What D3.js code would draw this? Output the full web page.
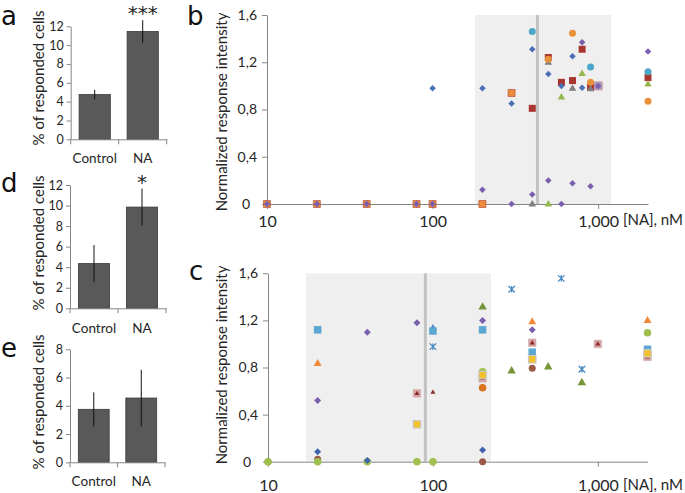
<!DOCTYPE html>
<html><head><meta charset="utf-8">
<script src="https://cdn.jsdelivr.net/npm/d3@7"></script>
<style>body{margin:0;background:#fff}svg{display:block;font-family:Lato,"Open Sans",sans-serif}</style>
</head><body><svg id="c" width="685" height="493"></svg>
<script>
// ---------------- DATA ----------------
const barCategories = ["Control", "NA"];
const aValues = [4.75, 11.45], aErrors = [0.5, 1.2];
const dValues = [4.35, 9.85], dErrors = [1.8, 1.8];
const eValues = [3.75, 4.55], eErrors = [1.2, 2.0];
const barTicks12 = [0, 2, 4, 6, 8, 10, 12];
const barTicks8 = [0, 2, 4, 6, 8];
const aStars = "***", dStars = "*", eStars = "";

const xTicks = [10, 100, 1000];
const xTickLabels = ["10", "100", "1,000"];
const xAxisTitle = "[NA], nM";
const yTicks = [0, 0.4, 0.8, 1.2, 1.6];
const yTickLabels = ["0", "0,4", "0,8", "1,2", "1,6"];
const yAxisTitle = "Normalized response intensity";
const barAxisTitle = "% of responded cells";
const xDomain = [10, 2000];
const bBand = [180, 1200], bLine = 430;
const cBand = [17, 225], cLine = 90;

// panel b series ([NA] nM, response)
const bOrangeSquare = [[10,0],[20,0],[40,0],[80,0],[100,0],[200,0],[300,0.94]];
const bLavenderSquare = [[1000,1.0]];
const bRedSquare = [[400,0.81],[500,1.24],[600,1.03],[700,1.045],[800,1.31],[900,0.99],[2000,1.07]];
const bTealCircle = [[400,1.46],[900,1.16],[2000,1.12]];
const bGrayTriangle = [[400,0],[500,1.2],[700,0.98],[900,0.975]];
const bOrangeCircle = [[500,1.225],[700,1.445],[900,1.03],[2000,0.87]];
const bGreenTriangle = [[500,0],[600,0.905],[800,1.105],[2000,1.015]];
const bBlueDiamond = [[100,0.98],[200,0.98],[300,0.85],[400,1.31],[500,1.10],[600,1.0],[700,1.25],[800,0.985]];
const bPurpleDiamond = [[10,0],[20,0],[40,0],[80,0],[100,0],[200,0.12],[300,0],[400,0.08],[500,0.2],[600,0],[700,0.175],[800,1.37],[900,0.15],[1000,1.0],[2000,1.29]];

// panel c series
const cBrownCircle = [[10,0],[20,0.02],[200,0],[400,0.793]];
const cLightGreenCircle = [[10,0],[20,0],[40,0],[80,0],[100,0],[200,0.764],[2000,1.096]];
const cLightBlueSquare = [[20,1.12],[100,1.11],[200,1.12],[400,0.93],[2000,0.955]];
const cBlueTriangle = [[100,1.135]];
const cOrangeTriangle = [[20,0.835],[400,1.19],[2000,1.2]];
const cPurpleDiamond = [[20,0.52],[40,1.1],[80,1.18],[200,1.2],[400,1.12]];
const cBlueDiamond = [[20,0.085],[40,0.01],[200,0.1]];
const cStar = [[100,0.977],[300,1.464],[600,1.557],[800,0.785]];
const cPinkSquare = [[80,0.58],[200,0.708],[400,1.01],[1000,1.0],[2000,0.89]];
const cDarkRedTriangle = [[80,0.58],[100,0.59],[200,0.708],[400,1.01],[1000,1.0],[2000,0.89]];
const cYellowSquare = [[80,0.318],[200,0.736],[400,0.87],[2000,0.92]];
const cGreenTriangle = [[200,1.316],[300,0.773],[500,0.807],[800,0.674]];
const cOrangeCircle = [[200,0.628]];

// ---------------- DRAWING ----------------
const svg = d3.select("#c");
const AX = "#868686", TXT = "#262626";
const LETTER_FONT = "'DejaVu Sans', sans-serif";

function styleAxis(g, fs) {
  g.select(".domain").attr("stroke", AX);
  g.selectAll(".tick line").attr("stroke", AX);
  g.selectAll(".tick text").attr("fill", TXT).style("font-size", fs + "px").style("font-family", "Lato");
}

function drawBarPanel(c) {
  const y = d3.scaleLinear().domain([0, c.yMax]).range([c.y0, c.yTop]);
  const x = d3.scaleBand().domain(barCategories).range([c.left, c.right]).paddingInner(0.35).paddingOuter(0.175);
  const g = svg.append("g");
  g.selectAll("rect").data(c.values).join("rect")
    .attr("x", (d, i) => x(barCategories[i])).attr("y", d => y(d))
    .attr("width", x.bandwidth()).attr("height", d => y(0) - y(d))
    .attr("fill", "#595959").attr("stroke", "#3a3a3a").attr("stroke-width", 0.8);
  g.selectAll("line.err").data(c.values).join("line").attr("class", "err")
    .attr("x1", (d, i) => x(barCategories[i]) + x.bandwidth() / 2)
    .attr("x2", (d, i) => x(barCategories[i]) + x.bandwidth() / 2)
    .attr("y1", (d, i) => y(d + c.errors[i])).attr("y2", (d, i) => y(d - c.errors[i]))
    .attr("stroke", "#111").attr("stroke-width", 1);
  const ya = g.append("g").attr("transform", `translate(${c.left},0)`)
    .call(d3.axisLeft(y).tickValues(c.ticks).tickSize(4).tickSizeOuter(0).tickPadding(3));
  styleAxis(ya, 12.5);
  const xa = g.append("g").attr("transform", `translate(0,${c.y0})`)
    .call(d3.axisBottom(x).tickSize(0).tickSizeOuter(0).tickPadding(c.catPad));
  styleAxis(xa, 13.5);
  const bounds = d3.range(barCategories.length + 1).map(i => x.range()[0] + i * x.step());
  g.selectAll("line.bt").data(bounds).join("line").attr("class", "bt")
    .attr("x1", d => d).attr("x2", d => d).attr("y1", c.y0).attr("y2", c.y0 + 5).attr("stroke", AX);
  if (c.stars) g.append("text").attr("x", x("NA") + x.bandwidth() / 2).attr("y", c.starsY)
    .attr("text-anchor", "middle").style("font-size", "20px").style("font-family", LETTER_FONT)
    .attr("fill", TXT).text(c.stars);
  g.append("text").attr("transform", `translate(44,${c.titleY}) rotate(-90)`)
    .attr("text-anchor", "middle").style("font-size", "15px").attr("fill", TXT).text(barAxisTitle);
  g.append("text").attr("x", 1).attr("y", c.letterY).style("font-size", "26px").style("font-family", LETTER_FONT)
    .attr("fill", "#111").text(c.letter);
}

drawBarPanel({values: aValues, errors: aErrors, ticks: barTicks12, yMax: 12, stars: aStars, letter: "a",
  left: 70.7, right: 166.7, y0: 139.3, yTop: 26.3, catPad: 14, starsY: 19.5, titleY: 78, letterY: 25});
drawBarPanel({values: dValues, errors: dErrors, ticks: barTicks12, yMax: 12, stars: dStars, letter: "d",
  left: 70, right: 166, y0: 308.3, yTop: 185, catPad: 15, starsY: 189, titleY: 243, letterY: 192});
drawBarPanel({values: eValues, errors: eErrors, ticks: barTicks8, yMax: 8, stars: eStars, letter: "e",
  left: 70, right: 165, y0: 462.3, yTop: 349.3, catPad: 14, starsY: 0, titleY: 402, letterY: 357});

// marker shapes
function shapePath(type, s) {
  const h = s / 2;
  if (type === "square") return `M${-h},${-h}H${h}V${h}H${-h}Z`;
  if (type === "diamond") return `M0,${-h}L${h},0L0,${h}L${-h},0Z`;
  if (type === "triangle") { const t = s * 0.866; return `M0,${-t * 0.62}L${h},${t * 0.38}L${-h},${t * 0.38}Z`; }
  if (type === "circle") return `M${h},0A${h},${h} 0 1,1 ${-h},0A${h},${h} 0 1,1 ${h},0Z`;
  if (type === "star") return `M${-h},${-h}L${h},${h}M${h},${-h}L${-h},${h}M0,${-h}V${h}`;
}

function drawScatter(c) {
  const x = d3.scaleLog().domain(xDomain).range([c.left, c.right]);
  const y = d3.scaleLinear().domain([0, 1.6]).range([c.y0, c.yTop]);
  const g = svg.append("g");
  g.append("rect").attr("x", x(c.band[0])).attr("y", y(1.6)).attr("width", x(c.band[1]) - x(c.band[0]))
    .attr("height", y(0) - y(1.6)).attr("fill", "#efefef");
  g.append("line").attr("x1", x(c.line)).attr("x2", x(c.line)).attr("y1", y(1.6)).attr("y2", y(0))
    .attr("stroke", "#c3c3c3").attr("stroke-width", 3);
  const ya = g.append("g").attr("transform", `translate(${c.left},0)`)
    .call(d3.axisLeft(y).tickValues(yTicks).tickFormat((d, i) => yTickLabels[i]).tickSize(5).tickSizeOuter(0).tickPadding(5));
  styleAxis(ya, 14);
  ya.selectAll(".tick text").attr("dx", d => d === 0 ? -7 : 0);
  const xa = g.append("g").attr("transform", `translate(0,${c.y0})`)
    .call(d3.axisBottom(x).tickValues(xTicks).tickFormat((d, i) => xTickLabels[i]).tickSize(5).tickSizeOuter(0).tickPadding(c.xPad));
  styleAxis(xa, 16);
  g.append("text").attr("x", 623).attr("y", c.titleBase).style("font-size", "15px").attr("fill", TXT).text(xAxisTitle);
  g.append("text").attr("transform", `translate(227,${c.titleY}) rotate(-90)`)
    .attr("text-anchor", "middle").style("font-size", "15px").attr("fill", TXT).text(yAxisTitle);
  g.append("text").attr("x", c.letterX).attr("y", c.letterY).style("font-size", "26px").style("font-family", LETTER_FONT)
    .attr("fill", "#111").text(c.letter);
  c.series.forEach(s => {
    g.append("g").selectAll("path").data(s.data).join("path")
      .attr("transform", d => `translate(${x(d[0])},${y(d[1])})`)
      .attr("d", shapePath(s.shape, s.size))
      .attr("fill", s.shape === "star" ? "none" : s.fill)
      .attr("stroke", s.stroke || "none").attr("stroke-width", s.sw || 1);
  });
}

drawScatter({left: 267, right: 648, y0: 204, yTop: 15, band: bBand, line: bLine, xPad: 7,
  titleBase: 225, titleY: 112, letter: "b", letterX: 187, letterY: 24.5,
  series: [
    {data: bOrangeSquare, shape: "square", size: 7, fill: "#ee8a3c", stroke: "#b8614a", sw: 0.8},
    {data: bLavenderSquare, shape: "square", size: 8, fill: "#a898c4", stroke: "#c9a0a0", sw: 1},
    {data: bRedSquare, shape: "square", size: 7, fill: "#a8352f"},
    {data: bTealCircle, shape: "circle", size: 7, fill: "#4ba7c8"},
    {data: bGrayTriangle, shape: "triangle", size: 7.5, fill: "#7f7f7f"},
    {data: bOrangeCircle, shape: "circle", size: 7, fill: "#e9903c"},
    {data: bGreenTriangle, shape: "triangle", size: 7.5, fill: "#95b84e"},
    {data: bBlueDiamond, shape: "diamond", size: 6.5, fill: "#4a6fb7"},
    {data: bPurpleDiamond, shape: "diamond", size: 6.5, fill: "#7a5fae"}
  ]});

drawScatter({left: 268, right: 647.5, y0: 461.7, yTop: 273.3, band: cBand, line: cLine, xPad: 13,
  titleBase: 490, titleY: 365, letter: "c", letterX: 189, letterY: 280,
  series: [
    {data: cBrownCircle, shape: "circle", size: 7, fill: "#9a5a48"},
    {data: cLightGreenCircle, shape: "circle", size: 7.5, fill: "#9fc04e"},
    {data: cBlueTriangle, shape: "triangle", size: 7.5, fill: "#4f7fc0"},
    {data: cLightBlueSquare, shape: "square", size: 7.5, fill: "#5ba7d2"},
    {data: cOrangeTriangle, shape: "triangle", size: 8, fill: "#f08a38"},
    {data: cPurpleDiamond, shape: "diamond", size: 7, fill: "#7a5fae"},
    {data: cBlueDiamond, shape: "diamond", size: 7, fill: "#3f64ac"},
    {data: cStar, shape: "star", size: 6.5, stroke: "#4a8cc2", sw: 1.3},
    {data: cPinkSquare, shape: "square", size: 7.5, fill: "#d9a3a3", stroke: "#c8b0b0", sw: 0.6},
    {data: cDarkRedTriangle, shape: "triangle", size: 5, fill: "#8b2a2a"},
    {data: cYellowSquare, shape: "square", size: 7.5, fill: "#f2c12e", stroke: "#c9c9c9", sw: 1.2},
    {data: cGreenTriangle, shape: "triangle", size: 8.5, fill: "#76953a"},
    {data: cOrangeCircle, shape: "circle", size: 7.5, fill: "#d9731f"}
  ]});
</script></body></html>
